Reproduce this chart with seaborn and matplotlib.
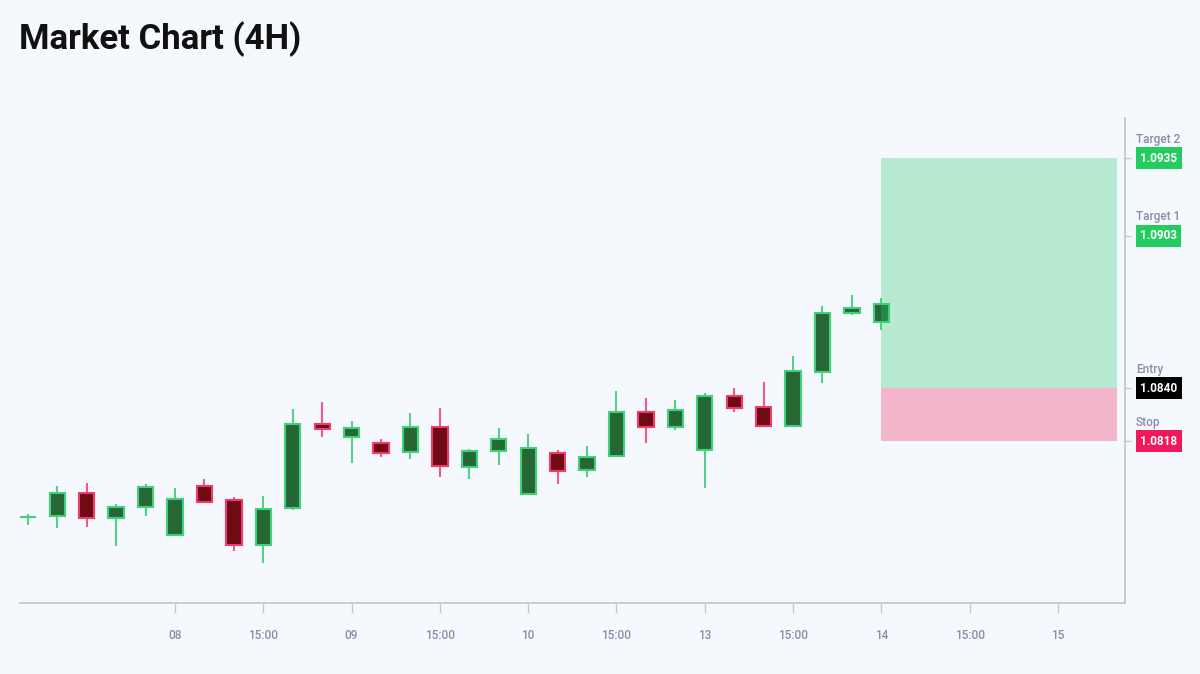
import matplotlib
matplotlib.use("Agg")
import matplotlib.pyplot as plt
import seaborn as sns
import numpy as np

# candle data (4H)
opens  = [1.07865, 1.07871, 1.07967, 1.07862, 1.07910, 1.07794, 1.07995, 1.07938, 1.07750, 1.07903,
          1.08252, 1.08199, 1.08173, 1.08134, 1.08238, 1.08075, 1.08140, 1.07962, 1.08133, 1.08060,
          1.08119, 1.08302, 1.08239, 1.08144, 1.08368, 1.08320, 1.08244, 1.08467, 1.08709, 1.08673]
highs  = [1.07878, 1.07995, 1.08006, 1.07921, 1.08002, 1.07986, 1.08024, 1.07951, 1.07955, 1.08313,
          1.08342, 1.08262, 1.08188, 1.08298, 1.08316, 1.08148, 1.08235, 1.08210, 1.08143, 1.08159,
          1.08386, 1.08360, 1.08350, 1.08381, 1.08401, 1.08426, 1.08531, 1.08738, 1.08783, 1.08771]
lows   = [1.07834, 1.07820, 1.07824, 1.07748, 1.07871, 1.07792, 1.07925, 1.07726, 1.07678, 1.07897,
          1.08199, 1.08091, 1.08114, 1.08105, 1.08032, 1.08023, 1.08082, 1.07962, 1.08005, 1.08031,
          1.08114, 1.08173, 1.08226, 1.07986, 1.08299, 1.08244, 1.08240, 1.08419, 1.08700, 1.08638]
closes = [1.07869, 1.07967, 1.07863, 1.07907, 1.07992, 1.07940, 1.07930, 1.07750, 1.07900, 1.08252,
          1.08231, 1.08235, 1.08130, 1.08238, 1.08076, 1.08141, 1.08189, 1.08152, 1.08058, 1.08116,
          1.08301, 1.08239, 1.08308, 1.08366, 1.08317, 1.08244, 1.08469, 1.08711, 1.08731, 1.08748]

tick_pos = [5, 8, 11, 14, 17, 20, 23, 26, 29, 32, 35]
tick_labels = ["08", "15:00", "09", "15:00", "10", "15:00", "13", "15:00", "14", "15:00", "15"]

entry = 1.0840
stop = 1.0818
target1 = 1.0903
target2 = 1.0935
level_names = ["Target 2", "Target 1", "Entry", "Stop"]
level_values = [target2, target1, entry, stop]
level_colors = ["#22cc5e", "#22cc5e", "#000000", "#ef1a5b"]

bg = "#f5f8fc"
sns.set_style("white", rc={"axes.facecolor": bg, "figure.facecolor": bg})
plt.rcParams["font.family"] = ["Roboto", "DejaVu Sans"]

fig = plt.figure(figsize=(12, 6.74), dpi=100)
ax = fig.add_axes([20/1200, 71/674, 1105/1200, 485/674])

x = np.arange(len(opens))
o = np.array(opens); c = np.array(closes); h = np.array(highs); l = np.array(lows)
up = c >= o

# wicks
ax.vlines(x[up], l[up], h[up], color="#55d08a", linewidth=1.5, zorder=2)
ax.vlines(x[~up], l[~up], h[~up], color="#f2588a", linewidth=1.5, zorder=2)
# bodies
ax.bar(x[up], c[up] - o[up], bottom=o[up], width=0.52, color="#276734",
       edgecolor="#3fd17c", linewidth=1.5, zorder=3)
ax.bar(x[~up], c[~up] - o[~up], bottom=o[~up], width=0.52, color="#6e0b14",
       edgecolor="#f23a6e", linewidth=1.5, zorder=3)

# trade zone
ax.fill_between([29, 37], entry, target2, color="#2ecc71", alpha=0.3, linewidth=0, zorder=4)
ax.fill_between([29, 37], stop, entry, color="#f0386b", alpha=0.35, linewidth=0, zorder=4)

ax.set_xlim(-0.267, 37.28)
ax.set_ylim(1.075116, 1.095157)

for s in ["left", "top"]:
    ax.spines[s].set_visible(False)
for s in ["bottom", "right"]:
    ax.spines[s].set_color("#c4c8d0")
    ax.spines[s].set_linewidth(1.3)

ax.set_xticks(tick_pos)
ax.set_xticklabels(tick_labels, fontweight="medium")
ax.tick_params(axis="x", length=7.5, width=1, color="#c4c8d0", pad=11,
               labelsize=8.5, labelcolor="#8a8ca8", bottom=True)

ax.yaxis.tick_right()
ax.set_yticks(level_values)
ax.set_yticklabels([])
ax.tick_params(axis="y", length=4.5, width=1, color="#c4c8d0", right=True, left=False)

for name, val, col in zip(level_names, level_values, level_colors):
    ax.annotate(name, xy=(1, val), xycoords=("axes fraction", "data"),
                xytext=(11, 19), textcoords="offset pixels", ha="left", va="center",
                fontsize=8.5, fontweight="medium", color="#8a8ca8", annotation_clip=False)
    ax.annotate(f"{val:.4f}", xy=(1, val), xycoords=("axes fraction", "data"),
                xytext=(15, 0), textcoords="offset pixels", ha="left", va="center",
                fontsize=8.5, fontweight="bold", color="white", annotation_clip=False,
                bbox=dict(boxstyle="square,pad=0.38", fc=col, ec="none"))

fig.text(19/1200, 1 - 49/674, "Market Chart (4H)", fontsize=25, fontweight="bold",
         color="#111111", ha="left", va="baseline")

fig.savefig("out.png", dpi=100, facecolor=bg)
